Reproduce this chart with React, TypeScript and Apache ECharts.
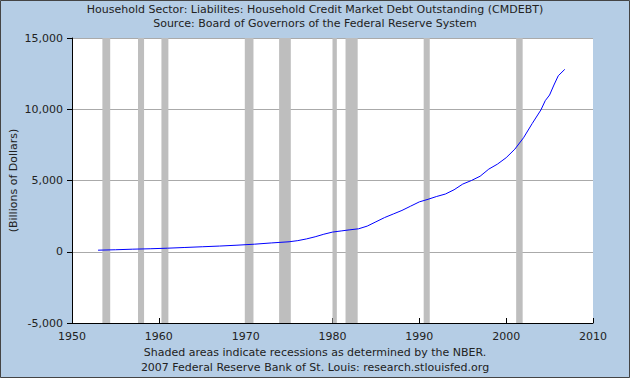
import React, { useEffect, useRef } from "react";
import * as echarts from "echarts";

const titleLine1 = "Household Sector: Liabilites: Household Credit Market Debt Outstanding (CMDEBT)";
const titleLine2 = "Source: Board of Governors of the Federal Reserve System";
const footLine1 = "Shaded areas indicate recessions as determined by the NBER.";
const footLine2 = "2007 Federal Reserve Bank of St. Louis: research.stlouisfed.org";
const yAxisName = "(Billions of Dollars)";

const years = [
  1953.0, 1955, 1957, 1959, 1961, 1963, 1965, 1967, 1969, 1971, 1973, 1975, 1976, 1977, 1978,
  1979, 1980, 1981, 1982, 1983, 1984, 1985, 1986, 1987, 1988, 1989, 1990, 1991, 1992, 1993,
  1994, 1995, 1996, 1997, 1998, 1999, 2000, 2001, 2002, 2003, 2004, 2004.5, 2005, 2005.5,
  2006, 2006.75,
];
const debt = [
  110, 140, 180, 210, 250, 300, 350, 400, 460, 530, 620, 700, 780, 900, 1050,
  1230, 1380, 1460, 1540, 1610, 1800, 2100, 2400, 2650, 2900, 3200, 3500, 3680, 3880, 4050,
  4350, 4750, 5000, 5300, 5800, 6150, 6600, 7200, 8000, 9000, 9950, 10600, 11000, 11700,
  12350, 12800,
];

const recessionStarts = [1953.5, 1957.6, 1960.3, 1969.9, 1973.85, 1980.0, 1981.5, 1990.5, 2001.15];
const recessionEnds = [1954.4, 1958.3, 1961.1, 1970.9, 1975.2, 1980.5, 1982.9, 1991.2, 2001.9];

const FONT = "DejaVu Sans";
const TEXT = "#222";

export default function App() {
  const ref = useRef<HTMLDivElement>(null);
  useEffect(() => {
    document.body.style.margin = "0";
    const chart = echarts.init(ref.current!, null, { renderer: "svg" });
    const lineData = years.map((y, i) => [y, debt[i]]);
    const areas = recessionStarts.map((s, i) => [{ xAxis: s }, { xAxis: recessionEnds[i] }]);
    chart.setOption({
      animation: false,
      backgroundColor: "#B5CDE5",
      textStyle: { fontFamily: FONT },
      title: [
        { text: titleLine1, left: "center", top: 4, padding: 0, textStyle: { fontSize: 11, fontWeight: "normal", color: TEXT, fontFamily: FONT } },
        { text: titleLine2, left: "center", top: 18, padding: 0, textStyle: { fontSize: 11, fontWeight: "normal", color: TEXT, fontFamily: FONT } },
        { text: footLine1, left: "center", top: 347, padding: 0, textStyle: { fontSize: 11, fontWeight: "normal", color: TEXT, fontFamily: FONT } },
        { text: footLine2, left: "center", top: 362, padding: 0, textStyle: { fontSize: 11, fontWeight: "normal", color: TEXT, fontFamily: FONT } },
      ],
      graphic: [
        { type: "rect", silent: true, z: 100, shape: { x: 0.5, y: 0.5, width: 629, height: 377 }, style: { fill: "none", stroke: "#444", lineWidth: 1 } },
      ],
      grid: {
        left: 72, right: 37, top: 38, bottom: 55,
        show: true, backgroundColor: "#fff", borderWidth: 0,
        containLabel: false, outerBoundsMode: "none",
      },
      xAxis: {
        type: "value",
        min: 1950,
        max: 2010,
        interval: 10,
        axisLine: { onZero: false, lineStyle: { color: "#000", width: 1 } },
        axisTick: { inside: true, length: 5, lineStyle: { color: "#000" } },
        axisLabel: { color: TEXT, fontSize: 11, margin: 8, formatter: (v: number) => String(v), fontFamily: FONT },
        splitLine: { show: false },
      },
      yAxis: {
        type: "value",
        min: -5000,
        max: 15000,
        interval: 5000,
        name: yAxisName,
        nameLocation: "middle",
        nameGap: 53,
        nameRotate: 90,
        nameMoveOverlap: false,
        nameTextStyle: { color: TEXT, fontSize: 11, fontFamily: FONT },
        axisLine: { show: true, lineStyle: { color: "#000", width: 1 } },
        axisTick: { show: true, inside: false, length: 5, lineStyle: { color: "#000" } },
        axisLabel: {
          color: TEXT,
          fontSize: 11,
          margin: 9,
          fontFamily: FONT,
          formatter: (v: number) => v.toLocaleString("en-US"),
        },
        splitLine: { show: true, lineStyle: { color: "#AAAAAA", width: 1 } },
      },
      series: [
        {
          type: "line",
          data: lineData,
          showSymbol: false,
          symbol: "none",
          lineStyle: { color: "#0000FF", width: 1 },
          z: 3,
          markArea: {
            silent: true,
            itemStyle: { color: "#BEBEBE", opacity: 1 },
            data: areas,
          },
        },
      ],
    });
    return () => chart.dispose();
  }, []);
  return <div ref={ref} style={{ width: 630, height: 378 }} />;
}
